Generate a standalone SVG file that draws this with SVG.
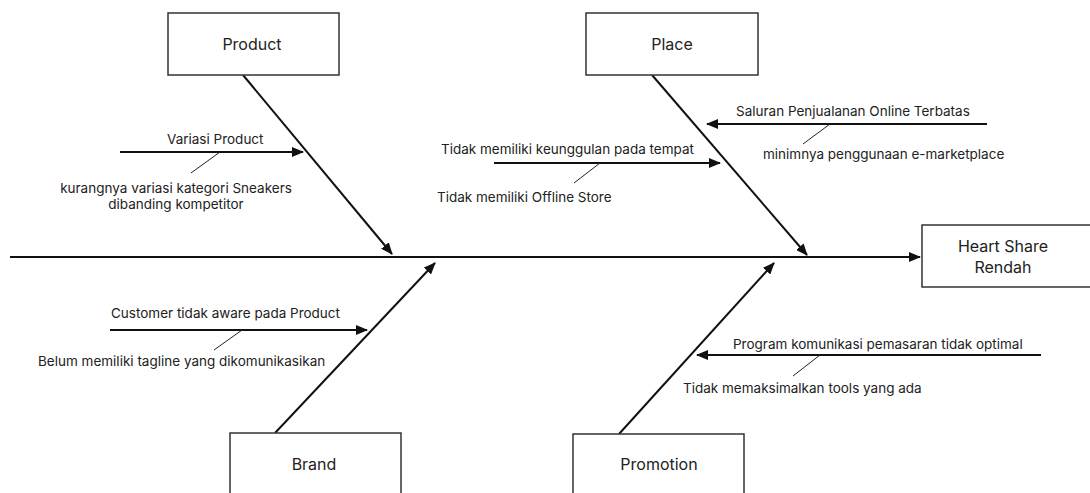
<svg xmlns="http://www.w3.org/2000/svg" width="1090" height="493" viewBox="0 0 1090 493">
<defs>
<style>
.box{fill:#fff;stroke:#333;stroke-width:1.5}
.lbl{font-family:Inter,"Liberation Sans",sans-serif;font-size:16px;fill:#222;text-anchor:middle}
.sub{font-family:Inter,"Liberation Sans",sans-serif;font-size:13.5px;fill:#222}
.bone{stroke:#111;stroke-width:2;fill:none}
.thin{stroke:#222;stroke-width:1;fill:none}
</style>
<marker id="ah" markerUnits="userSpaceOnUse" markerWidth="12" markerHeight="10" refX="11" refY="5" orient="auto">
<path d="M0,0 L12,5 L0,10 z" fill="#111"/>
</marker>
</defs>
<rect width="1090" height="493" fill="#fff"/>
<g id="connectors">
<line class="bone" x1="10" y1="257" x2="920" y2="257" marker-end="url(#ah)"/>
<line class="bone" x1="243" y1="75" x2="392" y2="254" marker-end="url(#ah)"/>
<line class="bone" x1="652" y1="75" x2="807" y2="255" marker-end="url(#ah)"/>
<line class="bone" x1="275" y1="433" x2="435" y2="263" marker-end="url(#ah)"/>
<line class="bone" x1="619" y1="434" x2="774" y2="263" marker-end="url(#ah)"/>
<line class="bone" x1="120" y1="152" x2="303" y2="152" marker-end="url(#ah)"/>
<line class="thin" x1="220" y1="152" x2="191" y2="173"/>
<line class="bone" x1="494" y1="163" x2="720" y2="163" marker-end="url(#ah)"/>
<line class="thin" x1="600" y1="163" x2="574" y2="183"/>
<line class="bone" x1="987" y1="124" x2="707" y2="124" marker-end="url(#ah)"/>
<line class="thin" x1="830" y1="124" x2="803" y2="144"/>
<line class="bone" x1="110" y1="330" x2="367" y2="330" marker-end="url(#ah)"/>
<line class="thin" x1="242" y1="330" x2="214" y2="350"/>
<line class="bone" x1="1041" y1="355" x2="697" y2="355" marker-end="url(#ah)"/>
<line class="thin" x1="820" y1="355" x2="793" y2="376"/>
</g>
<g id="product">
<rect class="box" x="168" y="13" width="171" height="62"/>
<text class="lbl" x="252" y="50">Product</text>
</g>
<g id="place">
<rect class="box" x="586" y="13" width="172" height="62"/>
<text class="lbl" x="672" y="50">Place</text>
</g>
<g id="brand">
<rect class="box" x="230" y="433" width="171" height="70"/>
<text class="lbl" x="314" y="470">Brand</text>
</g>
<g id="promotion">
<rect class="box" x="573" y="434" width="171" height="70"/>
<text class="lbl" x="659" y="470">Promotion</text>
</g>
<g id="effect">
<rect class="box" x="922" y="225" width="172" height="62"/>
<text class="lbl" x="1003" y="252">Heart Share</text>
<text class="lbl" x="1003" y="273">Rendah</text>
</g>
<g id="cause-texts">
<text class="sub" x="167" y="144">Variasi Product</text>
<text class="sub" x="176" y="193" text-anchor="middle">kurangnya variasi kategori Sneakers</text>
<text class="sub" x="176" y="209" text-anchor="middle">dibanding kompetitor</text>
<text class="sub" x="441" y="154">Tidak memiliki keunggulan pada tempat</text>
<text class="sub" x="437" y="202">Tidak memiliki Offline Store</text>
<text class="sub" x="736" y="116">Saluran Penjualanan Online Terbatas</text>
<text class="sub" x="763" y="159">minimnya penggunaan e-marketplace</text>
<text class="sub" x="111" y="318">Customer tidak aware pada Product</text>
<text class="sub" x="38" y="366">Belum memiliki tagline yang dikomunikasikan</text>
<text class="sub" x="733" y="349">Program komunikasi pemasaran tidak optimal</text>
<text class="sub" x="683" y="393">Tidak memaksimalkan tools yang ada</text>
</g>
</svg>
